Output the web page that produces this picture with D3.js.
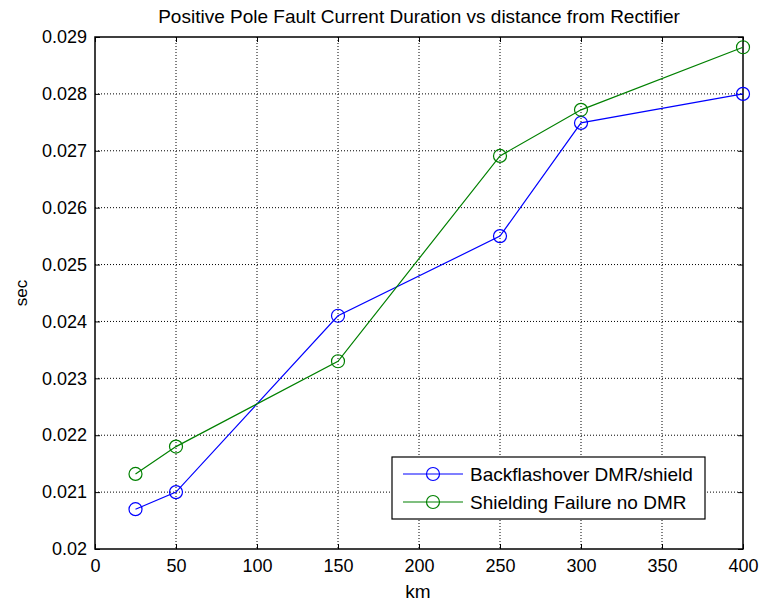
<!DOCTYPE html>
<html>
<head>
<meta charset="utf-8">
<script src="https://cdn.jsdelivr.net/npm/d3@7"></script>
<style>
body { margin: 0; background: #fff; }
svg { font-family: "Liberation Sans", Arial, sans-serif; }
</style>
</head>
<body>
<svg width="762" height="604"></svg>
<script>
// data
var distances = [25, 50, 150, 250, 300, 400];
var backflash = [0.0207, 0.0210, 0.0241, 0.0255, 0.02749, 0.0280];
var shielding = [0.02132, 0.02180, 0.0233, 0.02691, 0.02772, 0.02882];
var seriesNames = ["Backflashover DMR/shield", "Shielding Failure no DMR"];
var seriesColors = ["#0000ff", "#008000"];
var xTicks = [0, 50, 100, 150, 200, 250, 300, 350, 400];
var yTicks = [0.020, 0.021, 0.022, 0.023, 0.024, 0.025, 0.026, 0.027, 0.028, 0.029];

var svg = d3.select("svg");
var m = {left: 95, top: 37, right: 743, bottom: 549};

var x = d3.scaleLinear().domain([0, 400]).range([m.left, m.right]);
var y = d3.scaleLinear().domain([0.020, 0.029]).range([m.bottom, m.top]);

// grid
svg.append("g").selectAll("line").data(xTicks.slice(1, -1)).enter().append("line")
    .attr("x1", function(d){ return x(d); }).attr("x2", function(d){ return x(d); })
    .attr("y1", m.top).attr("y2", m.bottom)
    .attr("stroke", "#000").attr("stroke-width", 1).attr("stroke-dasharray", "1,2");
svg.append("g").selectAll("line").data(yTicks.slice(1, -1)).enter().append("line")
    .attr("y1", function(d){ return y(d); }).attr("y2", function(d){ return y(d); })
    .attr("x1", m.left).attr("x2", m.right)
    .attr("stroke", "#000").attr("stroke-width", 1).attr("stroke-dasharray", "1,2");

// axes (ticks pointing inward, MATLAB style)
var fmtY = function(d){ return d3.format(".3~f")(d); };
svg.append("g").attr("transform", "translate(0," + m.bottom + ")")
    .call(d3.axisBottom(x).tickValues(xTicks).tickSize(-5).tickPadding(10))
    .call(function(g){ g.select(".domain").remove(); });
svg.append("g").attr("transform", "translate(0," + m.top + ")")
    .call(d3.axisTop(x).tickValues(xTicks).tickSize(-5).tickFormat(""))
    .call(function(g){ g.select(".domain").remove(); });
svg.append("g").attr("transform", "translate(" + m.left + ",0)")
    .call(d3.axisLeft(y).tickValues(yTicks).tickSize(-5).tickPadding(8).tickFormat(fmtY))
    .call(function(g){ g.select(".domain").remove(); });
svg.append("g").attr("transform", "translate(" + m.right + ",0)")
    .call(d3.axisRight(y).tickValues(yTicks).tickSize(-5).tickFormat(""))
    .call(function(g){ g.select(".domain").remove(); });
svg.selectAll(".tick text").attr("font-size", 18).attr("fill", "#000")
    .attr("font-family", "Liberation Sans, Arial, sans-serif");
svg.selectAll(".tick line").attr("stroke", "#000");

svg.append("rect").attr("x", m.left).attr("y", m.top)
    .attr("width", m.right - m.left).attr("height", m.bottom - m.top)
    .attr("fill", "none").attr("stroke", "#000").attr("stroke-width", 1.5);

// series
var series = [backflash, shielding];
var line = d3.line().x(function(d){ return x(d[0]); }).y(function(d){ return y(d[1]); });
series.forEach(function(vals, i) {
    var pts = distances.map(function(dv, j){ return [dv, vals[j]]; });
    svg.append("path").datum(pts).attr("d", line)
        .attr("fill", "none").attr("stroke", seriesColors[i]).attr("stroke-width", 1.2);
    svg.append("g").selectAll("circle").data(pts).enter().append("circle")
        .attr("cx", function(d){ return x(d[0]); }).attr("cy", function(d){ return y(d[1]); })
        .attr("r", 6.5).attr("fill", "none").attr("stroke", seriesColors[i]).attr("stroke-width", 1.2);
});

// title and labels
svg.append("text").attr("x", (m.left + m.right) / 2).attr("y", 23).attr("text-anchor", "middle")
    .attr("font-size", 19).text("Positive Pole Fault Current Duration vs distance from Rectifier");
svg.append("text").attr("x", 418).attr("y", 598).attr("text-anchor", "middle")
    .attr("font-size", 19).text("km");
svg.append("text").attr("transform", "translate(27," + ((m.top + m.bottom) / 2) + ") rotate(-90)")
    .attr("text-anchor", "middle").attr("font-size", 17).text("sec");

// legend
var lg = svg.append("g").attr("transform", "translate(392,457)");
lg.append("rect").attr("width", 313).attr("height", 62)
    .attr("fill", "#fff").attr("stroke", "#000").attr("stroke-width", 1.2);
seriesNames.forEach(function(name, i) {
    var yy = 17 + i * 28;
    lg.append("line").attr("x1", 11).attr("x2", 71).attr("y1", yy).attr("y2", yy)
        .attr("stroke", seriesColors[i]).attr("stroke-width", 1.2);
    lg.append("circle").attr("cx", 41).attr("cy", yy).attr("r", 6.5)
        .attr("fill", "none").attr("stroke", seriesColors[i]).attr("stroke-width", 1.2);
    lg.append("text").attr("x", 78).attr("y", yy + 7).attr("font-size", 19).text(name);
});
</script>
</body>
</html>
